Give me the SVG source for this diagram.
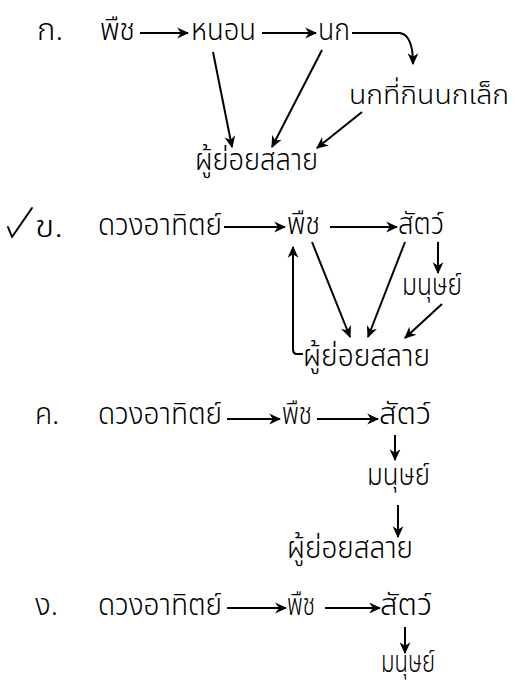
<svg xmlns="http://www.w3.org/2000/svg" width="517" height="687" viewBox="0 0 517 687">
<defs>
<style>
text{font-family:"Noto Sans Thai","Noto Sans","DejaVu Sans",sans-serif;font-size:30px;font-weight:300;fill:#000}
.c{fill:none;stroke:#000;stroke-width:2}
</style>
<marker id="ah" viewBox="0 0 10 10" refX="9" refY="5" markerWidth="6" markerHeight="6" orient="auto" markerUnits="strokeWidth">
<path d="M0,0.5 L10,5 L0,9.5 L3,5 z" fill="#000"/>
</marker>
</defs>
<rect width="517" height="687" fill="#fff"/>
<g id="secA">
<g id="a-label"><text x="37" y="40" textLength="26" lengthAdjust="spacingAndGlyphs">ก.</text></g>
<g id="a-plant"><text x="100" y="40" textLength="35" lengthAdjust="spacingAndGlyphs">พืช</text></g>
<g id="a-worm"><text x="191" y="40" textLength="65" lengthAdjust="spacingAndGlyphs">หนอน</text></g>
<g id="a-bird"><text x="318" y="40" textLength="32" lengthAdjust="spacingAndGlyphs">นก</text></g>
<g id="a-raptor"><text x="349" y="104" style="font-size:27px" textLength="160" lengthAdjust="spacingAndGlyphs">นกที่กินนกเล็ก</text></g>
<g id="a-decomp"><text x="195" y="170" textLength="123" lengthAdjust="spacingAndGlyphs">ผู้ย่อยสลาย</text></g>
</g>
<g id="secB">
<g id="b-label"><text x="35" y="237" textLength="28" lengthAdjust="spacingAndGlyphs">ข.</text></g>
<g id="b-sun"><text x="98" y="235" textLength="124" lengthAdjust="spacingAndGlyphs">ดวงอาทิตย์</text></g>
<g id="b-plant"><text x="287" y="234" textLength="33" lengthAdjust="spacingAndGlyphs">พืช</text></g>
<g id="b-animal"><text x="398" y="234" textLength="46" lengthAdjust="spacingAndGlyphs">สัตว์</text></g>
<g id="b-human"><text x="402" y="295" textLength="60" lengthAdjust="spacingAndGlyphs">มนุษย์</text></g>
<g id="b-decomp"><text x="303" y="366" textLength="127" lengthAdjust="spacingAndGlyphs">ผู้ย่อยสลาย</text></g>
</g>
<g id="secC">
<g id="c-label"><text x="35" y="424" textLength="24" lengthAdjust="spacingAndGlyphs">ค.</text></g>
<g id="c-sun"><text x="98" y="424" textLength="124" lengthAdjust="spacingAndGlyphs">ดวงอาทิตย์</text></g>
<g id="c-plant"><text x="282" y="424" textLength="30" lengthAdjust="spacingAndGlyphs">พืช</text></g>
<g id="c-animal"><text x="379" y="424" textLength="52" lengthAdjust="spacingAndGlyphs">สัตว์</text></g>
<g id="c-human"><text x="367" y="485" textLength="63" lengthAdjust="spacingAndGlyphs">มนุษย์</text></g>
<g id="c-decomp"><text x="287" y="558" textLength="126" lengthAdjust="spacingAndGlyphs">ผู้ย่อยสลาย</text></g>
</g>
<g id="secD">
<g id="d-label"><text x="35" y="615" textLength="23" lengthAdjust="spacingAndGlyphs">ง.</text></g>
<g id="d-sun"><text x="98" y="615" textLength="124" lengthAdjust="spacingAndGlyphs">ดวงอาทิตย์</text></g>
<g id="d-plant"><text x="287" y="615" textLength="28" lengthAdjust="spacingAndGlyphs">พืช</text></g>
<g id="d-animal"><text x="380" y="615" textLength="52" lengthAdjust="spacingAndGlyphs">สัตว์</text></g>
<g id="d-human"><text x="381" y="672" textLength="54" lengthAdjust="spacingAndGlyphs">มนุษย์</text></g>
</g>
<g id="check"><path class="c" d="M8,227 L12,237 L32,208" stroke-width="3" stroke-linecap="round" stroke-linejoin="round"/></g>
<g id="connectors" class="c" marker-end="url(#ah)">
<path d="M140,33 H188"/>
<path d="M262,33 H316"/>
<path d="M352,33 H400 Q413,35 413,64"/>
<path d="M213,52 L232,147"/>
<path d="M322,50 L272,147"/>
<path d="M362,112 L317,148"/>
<path d="M224,227 H285"/>
<path d="M330,227 H397"/>
<path d="M438,242 V273"/>
<path d="M442,304 L405,338"/>
<path d="M312,242 L350,337"/>
<path d="M405,242 L368,337"/>
<path d="M303,354 H297 Q293,354 293,349 V247"/>
<path d="M227,419 H280"/>
<path d="M317,419 H378"/>
<path d="M395,435 V460"/>
<path d="M398,505 V537"/>
<path d="M227,608 H286"/>
<path d="M325,608 H380"/>
<path d="M405,627 V653"/>
</g>
</svg>
